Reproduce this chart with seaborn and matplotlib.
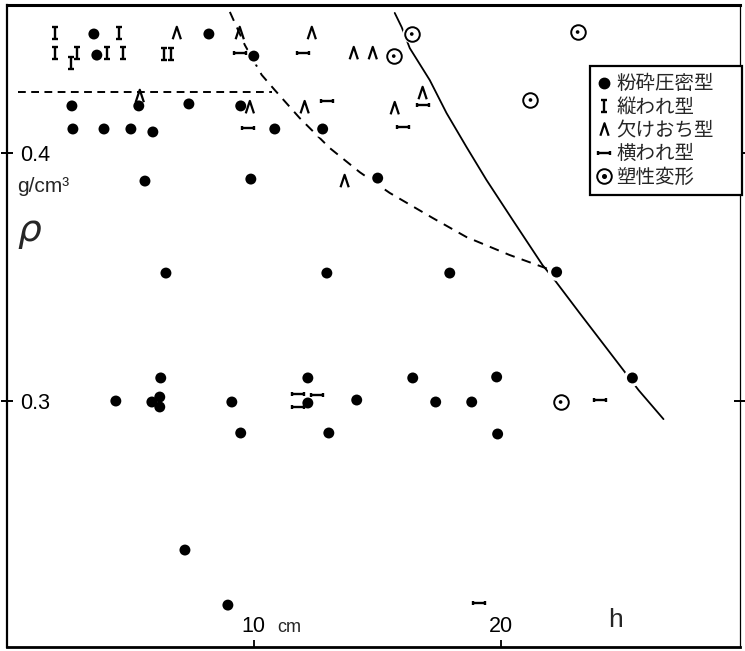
import matplotlib
matplotlib.use("Agg")
import matplotlib.pyplot as plt
import seaborn as sns
from matplotlib.path import Path
from matplotlib.lines import Line2D

# ---------------- data (h in cm, rho in g/cm3) ----------------
dot_h = [3.52, 8.18, 3.64, 10.0, 2.63, 5.34, 7.37, 9.47, 2.67, 3.93, 5.02, 5.91,
         10.85, 12.79, 5.59, 9.88, 15.02, 6.44, 12.96, 17.94, 22.27, 6.23, 12.19,
         16.44, 19.84, 25.34, 4.41, 5.87, 6.19, 6.19, 9.11, 12.19, 14.17, 17.37,
         18.83, 9.47, 13.04, 19.88, 7.21, 8.95]
dot_rho = [0.4480, 0.4480, 0.4395, 0.4391, 0.4190, 0.4190, 0.4198, 0.4190, 0.4097,
           0.4097, 0.4097, 0.4085, 0.4097, 0.4097, 0.3887, 0.3895, 0.3899, 0.3516,
           0.3516, 0.3516, 0.3520, 0.3093, 0.3093, 0.3093, 0.3097, 0.3093, 0.3000,
           0.2996, 0.3016, 0.2976, 0.2996, 0.2992, 0.3004, 0.2996, 0.2996, 0.2871,
           0.2871, 0.2867, 0.2399, 0.2177]

vert_h = [1.94, 4.53, 1.94, 2.83, 2.59, 4.05, 4.70, 6.36, 6.64]
vert_rho = [0.4484, 0.4484, 0.4403, 0.4403, 0.4363, 0.4403, 0.4403, 0.4399, 0.4399]

chip_h = [6.88, 9.43, 12.35, 14.05, 14.82, 5.38, 9.84, 12.06, 15.71, 16.84, 13.68]
chip_rho = [0.4484, 0.4484, 0.4484, 0.4403, 0.4403, 0.4230, 0.4185, 0.4185, 0.4181,
            0.4242, 0.3887]

horiz_h = [9.43, 11.98, 9.76, 12.96, 16.03, 16.84, 11.78, 12.55, 11.78, 24.01, 19.11]
horiz_rho = [0.4403, 0.4403, 0.4101, 0.4210, 0.4105, 0.4194, 0.3028, 0.3024, 0.2976,
             0.3004, 0.2185]

plast_h = [16.40, 15.67, 23.12, 21.21, 22.43]
plast_rho = [0.4480, 0.4391, 0.4488, 0.4214, 0.2996]

hline_h = [0.45, 10.73]
hline_rho = [0.4246, 0.4246]

dash_h = [9.03, 9.64, 10.32, 10.85, 11.86, 13.08, 14.29, 15.51, 17.25, 18.62, 20.36, 22.27]
dash_rho = [0.4569, 0.4435, 0.4315, 0.4254, 0.4141, 0.4020, 0.3923, 0.3839, 0.3738,
            0.3661, 0.3589, 0.3520]

solid_h = [15.71, 15.99, 16.32, 17.13, 17.81, 18.62, 19.43, 20.49, 21.70, 22.19,
           23.20, 24.94, 25.59, 26.60]
solid_rho = [0.4565, 0.4508, 0.4423, 0.4294, 0.4161, 0.4024, 0.3891, 0.3730, 0.3548,
             0.3488, 0.3355, 0.3129, 0.3044, 0.2927]

x_ticks = [10, 20]
x_ticklabels = ["10", "20"]
y_ticks = [0.3, 0.4]
y_ticklabels = ["0.3", "0.4"]
legend_labels = ["粉砕圧密型", "縦われ型", "欠けおち型", "横われ型", "塑性変形"]

# ---------------- style ----------------
sns.set_theme(style="white")
plt.rcParams['font.family'] = ['Noto Sans CJK JP', 'DejaVu Sans']
NUM_FONT = 'Liberation Sans'

M, L = Path.MOVETO, Path.LINETO
I_marker = Path([(0, -0.5), (0, 0.5), (-0.22, 0.5), (0.22, 0.5), (-0.22, -0.5), (0.22, -0.5)],
                [M, L, M, L, M, L])
L_marker = Path([(-0.33, -0.5), (0, 0.5), (0.33, -0.5)], [M, L, L])
H_marker = Path([(-0.5, 0), (0.5, 0), (-0.5, -0.18), (-0.5, 0.18), (0.5, -0.18), (0.5, 0.18)],
                [M, L, M, L, M, L])

fig = plt.figure(figsize=(7.45, 6.51), dpi=100)
ax = fig.add_axes([7 / 745, 4 / 651, 733 / 745, 642 / 651])

# lines
sns.lineplot(x=hline_h, y=hline_rho, color='black', linewidth=1.4, linestyle=(0, (4, 2.8)),
             estimator=None, sort=False, ax=ax, zorder=1)
sns.lineplot(x=dash_h, y=dash_rho, color='black', linewidth=1.4, linestyle=(0, (5, 3.8)),
             estimator=None, sort=False, ax=ax, zorder=1)
sns.lineplot(x=solid_h, y=solid_rho, color='black', linewidth=1.3,
             estimator=None, sort=False, ax=ax, zorder=1)

# white halos that break the lines around point markers
sns.scatterplot(x=dot_h, y=dot_rho, marker='o', s=160, color='white', edgecolor='none',
                linewidth=0, ax=ax, zorder=3)
sns.scatterplot(x=plast_h, y=plast_rho, marker='o', s=180, color='white', edgecolor='none',
                linewidth=0, ax=ax, zorder=3)

# markers
sns.scatterplot(x=dot_h, y=dot_rho, marker='o', s=62, color='black', edgecolor='none',
                linewidth=0, ax=ax, zorder=5)
sns.scatterplot(x=vert_h, y=vert_rho, marker=I_marker, s=80, color='black',
                facecolors='none', edgecolor='black', linewidth=1.7, ax=ax, zorder=5)
sns.scatterplot(x=chip_h, y=chip_rho, marker=L_marker, s=80, color='black',
                facecolors='none', edgecolor='black', linewidth=1.6, ax=ax, zorder=5)
sns.scatterplot(x=horiz_h, y=horiz_rho, marker=H_marker, s=74, color='black',
                facecolors='none', edgecolor='black', linewidth=1.7, ax=ax, zorder=5)
sns.scatterplot(x=plast_h, y=plast_rho, marker='o', s=110, color='white',
                edgecolor='black', linewidth=1.4, ax=ax, zorder=5)
sns.scatterplot(x=plast_h, y=plast_rho, marker='o', s=7, color='black',
                edgecolor='none', linewidth=0, ax=ax, zorder=6)

# axes
ax.set_xlim(0, 29.7)
ax.set_ylim(0.2008, 0.4597)
ax.set_xlabel("")
ax.set_ylabel("")
ax.set_xticks(x_ticks)
ax.set_xticklabels(x_ticklabels, fontsize=15.5, fontfamily=NUM_FONT)
ax.set_yticks(y_ticks)
ax.set_yticklabels(y_ticklabels, fontsize=15.5, fontfamily=NUM_FONT)
ax.tick_params(axis='x', direction='in', length=5, width=1.3, pad=-22, colors='black',
               bottom=True, top=False)
ax.tick_params(axis='y', direction='inout', length=8, width=1.4, pad=-13.4, colors='black',
               left=True, right=True)
plt.setp(ax.get_yticklabels(), ha='left')
for side, lw in [('top', 2.2), ('left', 1.6), ('bottom', 2.0), ('right', 0.9)]:
    ax.spines[side].set_visible(True)
    ax.spines[side].set_color('black')
    ax.spines[side].set_linewidth(lw)
ax.grid(False)

# texts
fig.text(277 / 745, 1 - 632 / 651, "cm", fontsize=13, family=NUM_FONT, va='baseline')
fig.text(608 / 745, 1 - 627 / 651, "h", fontsize=19, family=NUM_FONT, va='baseline')
fig.text(17 / 745, 1 - 192 / 651, "g/cm³", fontsize=15, family=NUM_FONT, va='baseline')
fig.text(29 / 745, 1 - 231 / 651, "ρ", fontsize=27, family='DejaVu Sans', style='italic',
         ha='center', va='center')

# legend
h_dot = Line2D([], [], marker='o', ls='none', color='black', markersize=7.5)
h_I = Line2D([], [], marker=I_marker, ls='none', markersize=9, mfc='none', mec='black', mew=1.7)
h_L = Line2D([], [], marker=L_marker, ls='none', markersize=9, mfc='none', mec='black', mew=1.6)
h_H = Line2D([], [], marker=H_marker, ls='none', markersize=8.5, mfc='none', mec='black', mew=1.7)
h_C = (Line2D([], [], marker='o', ls='none', markersize=10.5, mfc='white', mec='black', mew=1.4),
       Line2D([], [], marker='o', ls='none', markersize=2.6, color='black'))
leg = ax.legend([h_dot, h_I, h_L, h_H, h_C], legend_labels, loc='upper left',
                bbox_to_anchor=(0.795, 0.5, 0.2074, 0.4050), mode='expand',
                frameon=True, fancybox=False, edgecolor='black', framealpha=1,
                fontsize=14, handlelength=0.7, handletextpad=0.3, labelspacing=0.12,
                borderpad=0.38, borderaxespad=0)
leg.get_frame().set_linewidth(1.6)
leg.set_zorder(10)

fig.savefig("out.png", dpi=100)
